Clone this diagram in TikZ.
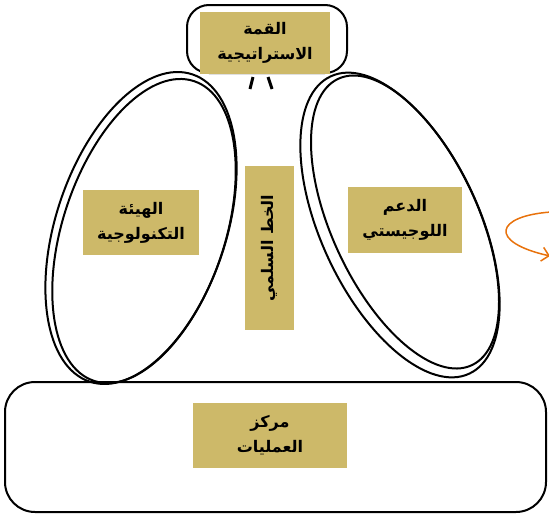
\documentclass[tikz,border=0pt]{standalone}
\usepackage{fontspec}
\usepackage{tikz}
\usetikzlibrary{shapes.geometric,arrows.meta}
\TeXXeTstate=1
\newfontfamily\arabicfont[Script=Arabic]{DejaVu Sans}
\definecolor{khaki}{RGB}{205,185,105}
\definecolor{scribble}{RGB}{232,114,12}
\tikzstyle{pillar}=[shape=rectangle,fill=khaki,inner sep=0pt,align=center,font=\arabicfont\bfseries\fontsize{16}{25}\selectfont]
\tikzstyle{ring}=[shape=ellipse,draw=black,line width=2pt,inner sep=0pt]
\tikzstyle{frame}=[shape=rectangle,draw=black,line width=2pt,inner sep=0pt]

\begin{document}
\begin{tikzpicture}[x=1pt,y=-1pt]
\useasboundingbox (0,0) rectangle (549,514);
% frames
\node[frame,rounded corners=22,minimum width=160,minimum height=68] (summitframe) at (267,39) {};
\node[frame,rounded corners=30,minimum width=541,minimum height=130] (baseframe) at (275.5,447) {};
% rings
\node[ring,minimum width=170,minimum height=324,rotate=-18.5] (techouter) at (141,228) {};
\node[ring,minimum width=162,minimum height=316,rotate=-18.5] (techinner) at (144,231) {};
\node[ring,minimum width=158,minimum height=328,rotate=25] (logouter) at (400,225) {};
\node[ring,minimum width=146,minimum height=316,rotate=25] (loginner) at (405,222) {};
% legs under the summit
\draw[line width=3pt] (253,77) -- (250,89);
\draw[line width=3pt] (268,77) -- (272,89);
% labels
\node[pillar,minimum width=130,minimum height=62] (summit) at (265,43)
    {\beginR القمة\endR\\\beginR الاستراتيجية\endR};
\node[pillar,minimum width=116,minimum height=65] (tech) at (141,222.5)
    {\beginR الهيئة\endR\\\beginR التكنولوجية\endR};
\node[pillar,minimum width=114,minimum height=66] (logistic) at (405,220)
    {\beginR الدعم\endR\\\beginR اللوجيستي\endR};
\node[pillar,minimum width=164,minimum height=49,rotate=90] (line) at (269.5,248)
    {\beginR الخط السلمي\endR};
\node[pillar,minimum width=154,minimum height=65] (ops) at (270,435.5)
    {\beginR مركز\endR\\\beginR العمليات\endR};
% scribble
\coordinate (swirlstart) at (551,212);
\coordinate (swirlend) at (550,256);
\draw[scribble,line width=1.5pt,-{Straight Barb[length=7pt,width=14pt]}] (swirlstart)
    .. controls (495,216) and (488,242) .. (swirlend);
\end{tikzpicture}
\end{document}
